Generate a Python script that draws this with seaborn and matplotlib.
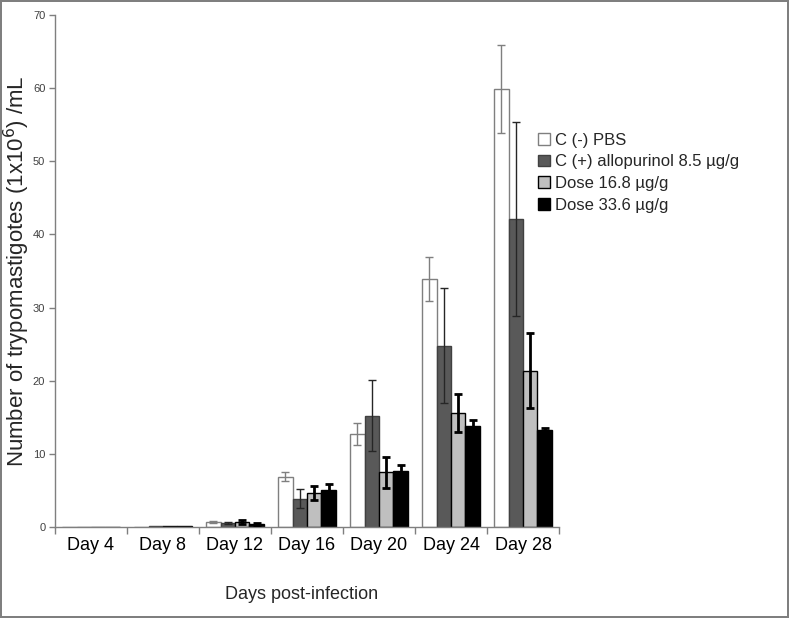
import matplotlib
matplotlib.use("Agg")
import matplotlib.pyplot as plt
import numpy as np
import pandas as pd
import seaborn as sns

DAYS = ["Day 4", "Day 8", "Day 12", "Day 16", "Day 20", "Day 24", "Day 28"]
GROUPS = [
    "C (-) PBS",
    "C (+) allopurinol 8.5 \u00b5g/g",
    "Dose 16.8 \u00b5g/g",
    "Dose 33.6 \u00b5g/g",
]
PBS_MEAN = [0.0, 0.05, 0.7, 6.9, 12.7, 33.9, 59.9]
PBS_ERR = [0.0, 0.0, 0.1, 0.65, 1.5, 3.0, 6.0]
ALLO_MEAN = [0.0, 0.1, 0.55, 3.9, 15.2, 24.8, 42.1]
ALLO_ERR = [0.0, 0.0, 0.15, 1.25, 4.85, 7.9, 13.3]
D168_MEAN = [0.0, 0.1, 0.65, 4.7, 7.5, 15.6, 21.4]
D168_ERR = [0.0, 0.0, 0.25, 0.95, 2.1, 2.55, 5.1]
D336_MEAN = [0.0, 0.1, 0.4, 5.05, 7.65, 13.8, 13.3]
D336_ERR = [0.0, 0.0, 0.1, 0.9, 0.8, 0.9, 0.3]

COLORS = ["#ffffff", "#595959", "#bfbfbf", "#000000"]
EDGES = ["#7f7f7f", "#404040", "#000000", "#000000"]
ERR_STYLE = [("#7f7f7f", 1.0), ("#262626", 1.0), ("#000000", 2.0), ("#000000", 2.0)]


def main():
    sns.set_theme(style="white")
    plt.rcParams["font.family"] = ["Liberation Sans", "DejaVu Sans"]

    means = [PBS_MEAN, ALLO_MEAN, D168_MEAN, D336_MEAN]
    errs = [PBS_ERR, ALLO_ERR, D168_ERR, D336_ERR]
    rows = []
    for group, vals in zip(GROUPS, means):
        for day, v in zip(DAYS, vals):
            rows.append({"day": day, "group": group, "value": v})
    df = pd.DataFrame(rows)

    fig = plt.figure(figsize=(7.89, 6.18), dpi=100)
    fig.patch.set_edgecolor("#7f7f7f")
    fig.patch.set_linewidth(1.5)
    ax = fig.add_axes([0.0697, 0.1472, 0.6388, 0.8285])

    sns.barplot(
        data=df, x="day", y="value", hue="group", order=DAYS, hue_order=GROUPS,
        palette=COLORS, errorbar=None, width=0.8, ax=ax, legend=True,
        linewidth=1.0,
    )

    bar_containers = list(ax.containers)
    for i, container in enumerate(bar_containers):
        xs, ys = [], []
        for patch in container.patches:
            patch.set_edgecolor(EDGES[i])
            xs.append(patch.get_x() + patch.get_width() / 2)
            ys.append(patch.get_height())
        color, lw = ERR_STYLE[i]
        yerr = np.array(errs[i])
        keep = yerr > 0
        ax.errorbar(
            np.array(xs)[keep], np.array(ys)[keep], yerr=yerr[keep], fmt="none",
            ecolor=color, elinewidth=lw, capsize=3, capthick=lw, zorder=5,
        )

    ax.set_xlim(-0.5, len(DAYS) - 0.5)
    ax.set_ylim(0, 70)
    ax.set_yticks(range(0, 71, 10))
    ax.set_xticks(np.arange(-0.5, len(DAYS), 1.0))
    ax.set_xticklabels([])
    ax.set_xticks(range(len(DAYS)), minor=True)
    ax.set_xticklabels(DAYS, minor=True, fontsize=13)
    ax.tick_params(axis="x", which="minor", length=0, pad=7, colors="#000000")
    ax.tick_params(axis="x", which="major", length=5, width=1, color="#7f7f7f",
                   direction="out", bottom=True)
    ax.tick_params(axis="y", length=4, width=1, color="#7f7f7f", direction="out",
                   left=True, labelsize=8, labelcolor="#404040", pad=3)

    for side in ["top", "right"]:
        ax.spines[side].set_visible(False)
    for side in ["left", "bottom"]:
        ax.spines[side].set_color("#7f7f7f")
        ax.spines[side].set_linewidth(1.0)

    ax.set_xlabel("Days post-infection", fontsize=13)
    ax.xaxis.set_label_coords(0.49, -0.115)
    ax.set_ylabel("Number of trypomastigotes (1x10$^{6}$) /mL", fontsize=16)
    ax.yaxis.set_label_coords(-0.046, 0.5)

    ax.legend(
        loc="upper left", bbox_to_anchor=(0.945, 0.783), frameon=False, fontsize=12,
        handlelength=0.7, handleheight=0.7, handletextpad=0.3, labelspacing=0.4,
        borderaxespad=0,
    )
    for h, e in zip(ax.get_legend().legend_handles, EDGES):
        h.set_edgecolor(e)

    fig.savefig("out.png", dpi=100, edgecolor=fig.get_edgecolor())


if __name__ == "__main__":
    main()
